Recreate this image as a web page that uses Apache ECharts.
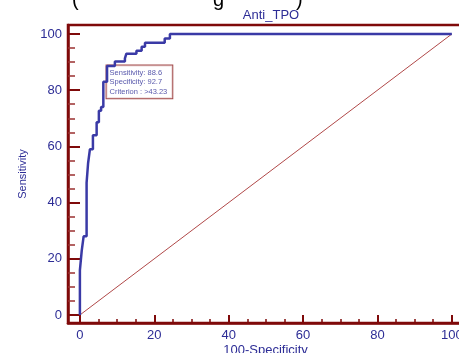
<!DOCTYPE html>
<html>
<head>
<meta charset="utf-8">
<script src="https://cdn.jsdelivr.net/npm/echarts@6/dist/echarts.min.js"></script>
<style>
  html, body { margin: 0; padding: 0; background: #fff; }
  #chart { width: 459px; height: 353px; }
</style>
</head>
<body>
<div id="chart"></div>
<script>
// ROC curve points (100-Specificity, Sensitivity), top of each vertical step
const fpr = [0, 0, 0.5, 1, 1.8, 2.2, 2.7, 3.5, 4.5, 5.1, 5.7, 6.3, 7.3, 9.4, 12.1, 12.5, 15.2, 16.6, 17.5, 22.8, 24.2, 100];
const tpr = [0, 16, 23, 28, 47, 54, 59, 64, 68.6, 72.7, 74, 83, 88.6, 90.2, 91.3, 93, 94, 95.5, 96.9, 98.4, 100, 100];
// diagonal reference line
const diagX = [0, 100];
const diagY = [0, 100];
// optimal criterion point
const critPoint = [7.3, 88.6];
const critText = ['Sensitivity: 88.6', 'Specificity: 92.7', 'Criterion : >43.23'];
// ticks
const majorTicks = [0, 20, 40, 60, 80, 100];
const minorTicks = [5, 10, 15, 25, 30, 35, 45, 50, 55, 65, 70, 75, 85, 90, 95];

const darkRed = '#7f0a0a';
const navy = '#2d2d96';
const font = 'Liberation Sans, Arial, sans-serif';

const chart = echarts.init(document.getElementById('chart'));

const xMin = -3.2, xMax = 103;
const yMin = -2.85, yMax = 103.2;

const option = {
  animation: false,
  title: {
    text: 'Anti_TPO',
    left: 266,
    top: 4,
    textAlign: 'center',
    textStyle: { color: navy, fontSize: 13, fontWeight: 'normal', fontFamily: font },
  },
  graphic: [
    { type: 'text', left: 72, top: -10, style: { text: '(', font: '20px ' + font, fill: '#000' } },
    { type: 'text', left: 213, top: -10, style: { text: 'g', font: '20px ' + font, fill: '#000' } },
    { type: 'text', left: 296, top: -10, style: { text: ')', font: '20px ' + font, fill: '#000' } },
  ],
  grid: {
    left: 68,
    top: 25,
    bottom: 30,
    right: -4,
    outerBoundsMode: 'none',
    show: true,
    borderColor: darkRed,
    borderWidth: 2.5,
  },
  xAxis: [
    {
      type: 'value',
      min: xMin,
      max: xMax,
      name: '100-Specificity',
      nameLocation: 'middle',
      nameGap: 21,
      nameMoveOverlap: false,
      nameTextStyle: { color: navy, fontSize: 13, fontFamily: font },
      splitLine: { show: false },
      axisLine: { show: true, onZero: false, lineStyle: { color: darkRed, width: 2.5 } },
      axisTick: { show: true, inside: true, length: 8, customValues: majorTicks, lineStyle: { color: darkRed, width: 2 } },
      axisLabel: { customValues: majorTicks, color: navy, fontSize: 13, fontFamily: font, margin: 6 },
    },
    {
      type: 'value',
      min: xMin,
      max: xMax,
      position: 'bottom',
      splitLine: { show: false },
      axisLine: { show: false, onZero: false },
      axisTick: { show: true, inside: true, length: 4, customValues: minorTicks, lineStyle: { color: darkRed, width: 1.5 } },
      axisLabel: { show: false },
    },
  ],
  yAxis: [
    {
      type: 'value',
      min: yMin,
      max: yMax,
      name: 'Sensitivity',
      nameLocation: 'middle',
      nameGap: 40,
      nameMoveOverlap: false,
      nameTextStyle: { color: navy, fontSize: 11, fontFamily: font },
      splitLine: { show: false },
      axisLine: { show: true, onZero: false, lineStyle: { color: darkRed, width: 2.5 } },
      axisTick: { show: true, inside: true, length: 12, customValues: majorTicks, lineStyle: { color: darkRed, width: 2 } },
      axisLabel: { customValues: majorTicks, color: navy, fontSize: 13, fontFamily: font, margin: 6 },
    },
    {
      type: 'value',
      min: yMin,
      max: yMax,
      position: 'left',
      splitLine: { show: false },
      axisLine: { show: false, onZero: false },
      axisTick: { show: true, inside: true, length: 7, customValues: minorTicks, lineStyle: { color: '#9a3030', width: 1.5 } },
      axisLabel: { show: false },
    },
  ],
  series: [
    {
      name: 'diagonal',
      type: 'line',
      data: diagX.map((x, i) => [x, diagY[i]]),
      symbol: 'none',
      silent: true,
      lineStyle: { color: '#b04848', width: 1 },
    },
    {
      name: 'ROC',
      type: 'line',
      step: 'end',
      data: fpr.map((x, i) => [x, tpr[i]]),
      symbol: 'none',
      silent: true,
      lineStyle: { color: '#3a3aa6', width: 2.5 },
    },
    {
      name: 'criterion',
      type: 'scatter',
      data: [critPoint],
      symbolSize: 1,
      silent: true,
      itemStyle: { color: 'rgba(0,0,0,0)' },
      label: {
        show: true,
        position: [0, 0],
        align: 'left',
        verticalAlign: 'top',
        formatter: critText.join('\n'),
        color: navy,
        fontSize: 7.5,
        lineHeight: 9.2,
        fontFamily: font,
        backgroundColor: '#fff',
        borderColor: '#8b1a1a',
        borderWidth: 1,
        padding: [3, 5, 2, 3],
      },
    },
  ],
};

chart.setOption(option);

window.addEventListener('resize', () => {
  chart.resize();
});
</script>
</body>
</html>
